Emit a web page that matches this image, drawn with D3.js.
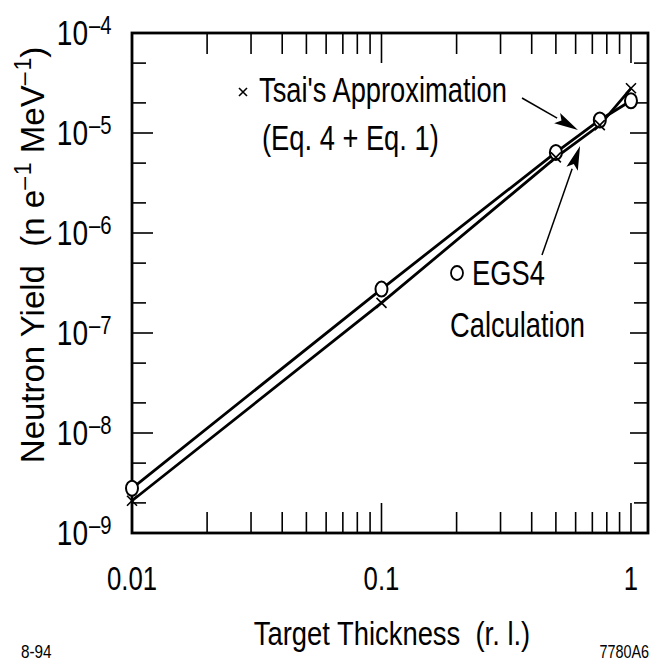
<!DOCTYPE html>
<html>
<head>
<meta charset="utf-8">
<script src="https://cdn.jsdelivr.net/npm/d3@7"></script>
<style>
  html, body { margin: 0; padding: 0; background: #fff; }
  svg { display: block; }
  text { font-family: "Liberation Sans", Arial, Helvetica, sans-serif; fill: #000; white-space: pre; }
</style>
</head>
<body>
<svg id="chart" width="650" height="661"></svg>
<script>
// Target thickness (radiation lengths) at which the yield was evaluated
const thickness = [0.01, 0.1, 0.5, 0.75, 1];
// EGS4 Monte Carlo calculation (neutrons per electron per MeV)
const egs4Yield = [2.8e-9, 2.75e-7, 6.4e-6, 1.35e-5, 2.1e-5];
// Tsai's approximation (Eq. 4 + Eq. 1)
const tsaiYield = [2.1e-9, 2.0e-7, 5.7e-6, 1.2e-5, 2.8e-5];

const xTickLabels = ["0.01", "0.1", "1"];
const yDecades = [-9, -8, -7, -6, -5, -4];

const xDomain = [0.01, 1.17];
const yDomain = [1e-9, 1e-4];

const frame = { left: 132, right: 648, top: 33, bottom: 533 };
const SX = 0.78; // horizontal squeeze that gives the narrow lettering

const svg = d3.select("#chart");
const x = d3.scaleLog().domain(xDomain).range([frame.left, frame.right]);
const y = d3.scaleLog().domain(yDomain).range([frame.bottom, frame.top]);

function narrowText(g, px, py, str, size, anchor, sx) {
  return g.append("text")
    .attr("xml:space", "preserve")
    .attr("transform", `translate(${px},${py}) scale(${sx},1)`)
    .attr("text-anchor", anchor)
    .style("font-size", size + "px")
    .text(str);
}

// ---- ticks -------------------------------------------------------------
const tickG = svg.append("g").attr("stroke", "#000").attr("stroke-width", 1.6);

// x: minor ticks 2..9 in each decade, decade ticks longer, on top and bottom
const xMinor = [];
[0.01, 0.1].forEach(d => { for (let k = 2; k <= 9; k++) xMinor.push(d * k); });
const xMajor = [0.1, 1];
xMinor.forEach(v => {
  tickG.append("line").attr("x1", x(v)).attr("x2", x(v)).attr("y1", frame.bottom).attr("y2", frame.bottom - 21);
  tickG.append("line").attr("x1", x(v)).attr("x2", x(v)).attr("y1", frame.top).attr("y2", frame.top + 21);
});
xMajor.forEach(v => {
  tickG.append("line").attr("x1", x(v)).attr("x2", x(v)).attr("y1", frame.bottom).attr("y2", frame.bottom - 30);
  tickG.append("line").attr("x1", x(v)).attr("x2", x(v)).attr("y1", frame.top).attr("y2", frame.top + 30);
});

// y: ticks at 2 and 5 (short) and at each decade (long), on both sides
const yMinor = [];
yDecades.slice(0, -1).forEach(p => { yMinor.push(2 * Math.pow(10, p)); yMinor.push(5 * Math.pow(10, p)); });
const yMajor = yDecades.slice(1, -1).map(p => Math.pow(10, p));
yMinor.forEach(v => {
  tickG.append("line").attr("x1", frame.left).attr("x2", frame.left + 14).attr("y1", y(v)).attr("y2", y(v));
  tickG.append("line").attr("x1", frame.right).attr("x2", frame.right - 14).attr("y1", y(v)).attr("y2", y(v));
});
yMajor.forEach(v => {
  tickG.append("line").attr("x1", frame.left).attr("x2", frame.left + 21).attr("y1", y(v)).attr("y2", y(v));
  tickG.append("line").attr("x1", frame.right).attr("x2", frame.right - 18).attr("y1", y(v)).attr("y2", y(v));
});

// ---- frame -------------------------------------------------------------
svg.append("rect")
  .attr("x", frame.left).attr("y", frame.top)
  .attr("width", frame.right - frame.left).attr("height", frame.bottom - frame.top)
  .attr("fill", "none").attr("stroke", "#000").attr("stroke-width", 2.8);

// ---- tick labels -------------------------------------------------------
const labG = svg.append("g");
xTickLabels.forEach(t => {
  narrowText(labG, x(+t), 590, t, 33, "middle", SX);
});
yDecades.forEach(p => {
  const yy = y(Math.pow(10, p));
  narrowText(labG, 88, yy + 12, "10", 36, "end", SX);
  narrowText(labG, 89, yy + 1, "\u2013" + Math.abs(p), 26, "start", SX);
});

// ---- axis titles -------------------------------------------------------
narrowText(labG, 392, 645, "Target Thickness  (r. l.)", 33, "middle", 0.83);

const yt = labG.append("text")
  .attr("xml:space", "preserve")
  .attr("transform", "translate(44,255) rotate(-90)")
  .attr("text-anchor", "middle")
  .style("font-size", "33px");
yt.append("tspan").text("Neutron Yield  (n e");
yt.append("tspan").attr("dy", -13).style("font-size", "23px").text("\u2013\u200a1");
yt.append("tspan").attr("dy", 13).text(" MeV");
yt.append("tspan").attr("dy", -13).style("font-size", "23px").text("\u2013\u200a1");
yt.append("tspan").attr("dy", 13).text(")");

narrowText(labG, 21, 658, "8-94", 18, "start", 0.85);
narrowText(labG, 649, 658, "7780A6", 18, "end", 0.8);

// ---- data lines --------------------------------------------------------
const line = d3.line().x(d => x(d[0])).y(d => y(d[1]));
const egsPts = thickness.map((t, i) => [t, egs4Yield[i]]);
const tsaiPts = thickness.map((t, i) => [t, tsaiYield[i]]);

svg.append("path").datum(egsPts).attr("d", line)
  .attr("fill", "none").attr("stroke", "#000").attr("stroke-width", 2.8);
svg.append("path").datum(tsaiPts).attr("d", line)
  .attr("fill", "none").attr("stroke", "#000").attr("stroke-width", 2.8);

// EGS4 points: open circles
svg.append("g").selectAll("ellipse").data(egsPts).join("ellipse")
  .attr("cx", d => x(d[0])).attr("cy", d => y(d[1]))
  .attr("rx", 6).attr("ry", 7.5)
  .attr("fill", "#fff").attr("stroke", "#000").attr("stroke-width", 2);

// Tsai points: crosses
const cross = 5;
svg.append("g").selectAll("path").data(tsaiPts).join("path")
  .attr("d", d => {
    const cx = x(d[0]), cy = y(d[1]);
    return `M${cx - cross},${cy - cross}L${cx + cross},${cy + cross}M${cx - cross},${cy + cross}L${cx + cross},${cy - cross}`;
  })
  .attr("fill", "none").attr("stroke", "#000").attr("stroke-width", 1.6);

// ---- annotations -------------------------------------------------------
const annG = svg.append("g");
// legend symbols
annG.append("path")
  .attr("d", "M239,88L247,96M239,96L247,88")
  .attr("stroke", "#000").attr("stroke-width", 1.6);
annG.append("ellipse").attr("cx", 457).attr("cy", 273).attr("rx", 6).attr("ry", 7)
  .attr("fill", "#fff").attr("stroke", "#000").attr("stroke-width", 1.8);

narrowText(annG, 259, 102, "Tsai's Approximation", 35, "start", SX);
narrowText(annG, 262, 150, "(Eq. 4 + Eq. 1)", 35, "start", SX);
narrowText(annG, 472, 285, "EGS4", 35, "start", SX);
narrowText(annG, 450, 337, "Calculation", 35, "start", SX);

// arrows pointing at the two curves
const arrowTips = [[0.613, 1.07e-5], [0.625, 7.4e-6]];
const arrowTails = [[522, 98], [542, 255]];
arrowTips.forEach((tip, i) => {
  const tx = x(tip[0]), ty = y(tip[1]);
  const [sx, sy] = arrowTails[i];
  const dx = tx - sx, dy = ty - sy, len = Math.hypot(dx, dy);
  const ux = dx / len, uy = dy / len;
  const headLen = 24, headW = 6;
  const bx = tx - ux * headLen, by = ty - uy * headLen;
  annG.append("line").attr("x1", sx).attr("y1", sy).attr("x2", bx).attr("y2", by)
    .attr("stroke", "#000").attr("stroke-width", 1.5);
  annG.append("path")
    .attr("d", `M${tx},${ty}L${bx - uy * headW},${by + ux * headW}L${bx + ux * 5},${by + uy * 5}L${bx + uy * headW},${by - ux * headW}Z`)
    .attr("fill", "#000");
});
</script>
</body>
</html>
